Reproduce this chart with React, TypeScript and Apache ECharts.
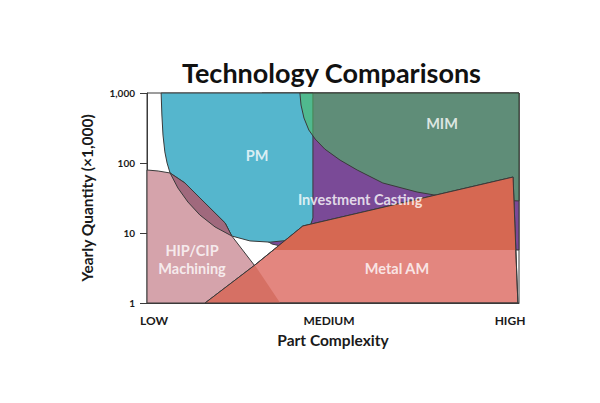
import React, { useEffect, useRef } from "react";
import * as echarts from "echarts";

type Pt = [number, number];

// x: part complexity (0 = LOW, 50 = MEDIUM, 100 = HIGH); y: yearly quantity (x1,000), log scale
const complexityTicks = [0, 50, 100];
const complexityLabels = ["LOW", "MEDIUM", "HIGH"];
const quantityLabels: Record<number, string> = { 1: "1", 10: "10", 100: "100", 1000: "1,000" };

const pmLeftEdge: Pt[] = [
  [3.8, 1000], [4.0, 485], [4.3, 251], [4.8, 144], [5.4, 100], [6.2, 72],
  [8.3, 44], [11.0, 27.7], [14.2, 18.1], [18.3, 12.2], [22.8, 9.06],
];
const pmBottomEdge: Pt[] = [
  [27.7, 7.7], [33.1, 7.4], [38.4, 7.9], [41.9, 9.7], [43.8, 12.2], [44.6, 16.4], [44.6, 1000],
];
const hipTopEdge: Pt[] = [[0, 79.4], [3.0, 76.9]];
const hipEdge: Pt[] = [
  [6.2, 72], [10.2, 51.8], [15.6, 26.8], [21.0, 13.9], [22.8, 9.06], [29.0, 3.38], [35.8, 1],
];
const hipBottom: Pt[] = [[0, 1]];
const castingRegion: Pt[] = [
  [30.9, 1000], [100, 1000], [100, 5.72], [46.5, 5.72], [41.1, 5.9], [37.1, 6.31], [33.6, 6.96], [30.9, 8.48],
];
const mimRegion: Pt[] = [
  [41.1, 1000], [41.4, 674], [42.2, 439], [43.5, 296], [45.2, 220], [47.8, 158], [51.9, 110],
  [56.5, 79.4], [63.4, 51.8], [72.6, 38.5], [78.8, 33.8], [86.8, 30.6], [100, 28.7], [100, 1000],
];
const metalRegion: Pt[] = [[15.6, 1], [29.0, 3.49], [41.9, 12.6], [98.4, 63], [99.7, 1]];
const metalOverCasting: Pt[] = [[34.0, 5.72], [41.9, 12.6], [98.4, 63], [99.1, 5.72]];
const metalOverHip: Pt[] = [[15.6, 1], [29.0, 3.45], [35.8, 1]];

const regionLabels = [
  { name: "PM", value: [29.6, 130] },
  { name: "MIM", value: [79.3, 361] },
  { name: "Investment Casting", value: [57.3, 30.5] },
  { name: "HIP/CIP\nMachining", value: [12.1, 4.25] },
  { name: "Metal AM", value: [67.2, 3.16] },
];

const FONT = "Lato";
const STROKE = "#3a3a3a";

function region(name: string, pts: Pt[], fill: string, stroke: boolean, z: number) {
  return {
    type: "custom",
    name,
    data: pts,
    encode: { x: 0, y: 1 },
    silent: true,
    z,
    renderItem: (params: any, api: any) => {
      if (params.dataIndex !== 0) return null;
      const points = pts.map((p) => api.coord(p));
      return {
        type: "polygon",
        shape: { points },
        style: {
          fill,
          stroke: stroke ? STROKE : "none",
          lineWidth: stroke ? 1 : 0,
        },
      };
    },
  };
}

export default function App() {
  const ref = useRef<HTMLDivElement>(null);
  useEffect(() => {
    if (!ref.current) return;
    const chart = echarts.init(ref.current, null, { renderer: "svg" });
    const pmRegion = [...pmLeftEdge, ...pmBottomEdge];
    const hipRegion = [...hipTopEdge, ...hipEdge, ...hipBottom];
    const lensRegion = [...pmLeftEdge.slice(5), hipEdge[3], hipEdge[2], hipEdge[1]];
    chart.setOption({
      animation: false,
      backgroundColor: "#ffffff",
      title: {
        text: "Technology Comparisons",
        left: 177,
        top: 54,
        textStyle: { fontFamily: FONT, fontWeight: "bold", fontSize: 27, color: "#111" },
      },
      grid: {
        left: 147,
        right: 81,
        top: 93,
        bottom: 100,
        show: true,
        borderColor: "#3a3a3a",
        borderWidth: 1,
        backgroundColor: "transparent",
      },
      xAxis: {
        type: "value",
        min: 0,
        max: 100,
        interval: 50,
        name: "Part Complexity",
        nameLocation: "middle",
        nameGap: 29,
        nameTextStyle: { fontFamily: FONT, fontWeight: "bold", fontSize: 15.5, color: "#1a1a1a" },
        axisLine: { show: true, lineStyle: { color: "#3a3a3a", width: 1 } },
        axisTick: { show: false },
        splitLine: { show: false },
        axisLabel: {
          margin: 11,
          fontFamily: FONT,
          fontWeight: "bold",
          fontSize: 12,
          color: "#1a1a1a",
          formatter: (v: number) => {
            const i = complexityTicks.indexOf(v);
            const key = ["l", "m", "h"][i];
            return `{${key}|${complexityLabels[i]}}`;
          },
          rich: {
            l: { fontFamily: FONT, fontWeight: "bold", fontSize: 12, color: "#1a1a1a", padding: [0, 0, 0, 14] },
            m: { fontFamily: FONT, fontWeight: "bold", fontSize: 12, color: "#1a1a1a", padding: [0, 8, 0, 0] },
            h: { fontFamily: FONT, fontWeight: "bold", fontSize: 12, color: "#1a1a1a", padding: [0, 18, 0, 0] },
          },
        },
      },
      yAxis: {
        type: "log",
        logBase: 10,
        min: 1,
        max: 1000,
        name: "Yearly Quantity (\u00d71,000)",
        nameLocation: "middle",
        nameGap: 52,
        nameTextStyle: { fontFamily: FONT, fontWeight: "bold", fontSize: 15.5, color: "#1a1a1a" },
        axisLine: { show: true, lineStyle: { color: "#3a3a3a", width: 1 } },
        axisTick: { show: true, length: 7, lineStyle: { color: "#3a3a3a" } },
        splitLine: { show: false },
        axisLabel: {
          margin: 12,
          fontFamily: FONT,
          fontWeight: "bold",
          fontSize: 10,
          color: "#1a1a1a",
          formatter: (v: number) => quantityLabels[Math.round(v)] ?? "",
        },
      },
      series: [
        region("Investment Casting", castingRegion, "#7a4a97", true, 2),
        region("PM", pmRegion, "#55b6cd", true, 3),
        region("MIM", mimRegion, "rgba(76,187,100,0.6)", true, 4),
        region("HIP/CIP Machining", hipRegion, "#d5a3ab", true, 5),
        region("PM + HIP/CIP", lensRegion, "#a0697d", true, 6),
        region("Metal AM", metalRegion, "#e3867f", true, 7),
        region("Metal AM + Investment Casting", metalOverCasting, "#d66852", false, 8),
        region("Metal AM + HIP/CIP", metalOverHip, "#d67064", false, 8),
        region("Metal AM outline", metalRegion, "none", true, 9),
        {
          type: "scatter",
          z: 20,
          silent: true,
          symbolSize: 1,
          itemStyle: { color: "transparent" },
          data: regionLabels,
          label: {
            show: true,
            position: "inside",
            formatter: (p: any) => p.name,
            fontFamily: FONT,
            fontWeight: "bold",
            fontSize: 14.5,
            lineHeight: 18,
            color: "#ffffff",
            align: "center",
          },
        },
      ],
    });
    return () => chart.dispose();
  }, []);
  return (
    <div
      ref={ref}
      style={{ position: "fixed", left: 0, top: 0, width: 600, height: 403, background: "#fff" }}
    />
  );
}
